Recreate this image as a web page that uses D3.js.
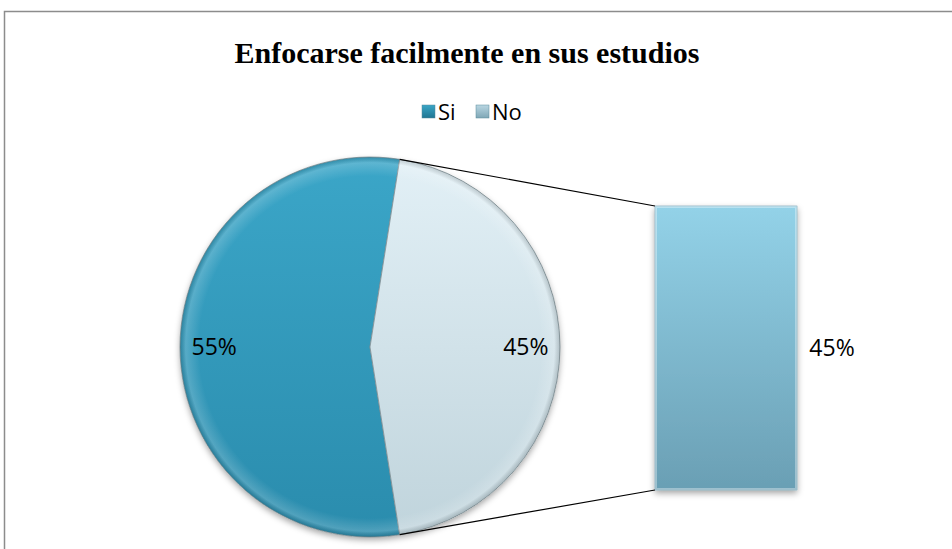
<!DOCTYPE html>
<html>
<head>
<meta charset="utf-8">
<script src="https://cdn.jsdelivr.net/npm/d3@7"></script>
<style>
  body { margin: 0; background: #fff; }
  svg { display: block; }
</style>
</head>
<body>
<div id="chart"></div>
<script>
const title = "Enfocarse facilmente en sus estudios";
const categories = ["Si", "No"];
const values = [55, 45];
const barCategories = ["No"];
const barValues = [45];

const width = 952, height = 549;
const cx = 370, cy = 347, r = 190;
const labelFont = "'Open Sans', 'Noto Sans', sans-serif";

const svg = d3.select("#chart").append("svg")
    .attr("width", width)
    .attr("height", height);

const defs = svg.append("defs");

function vGrad(id, top, bottom) {
    const g = defs.append("linearGradient")
        .attr("id", id)
        .attr("x1", 0).attr("y1", 0).attr("x2", 0).attr("y2", 1);
    g.append("stop").attr("offset", "0%").attr("stop-color", top);
    g.append("stop").attr("offset", "100%").attr("stop-color", bottom);
}
vGrad("g-si", "#3ba6c8", "#2a8cad");
vGrad("g-no", "#e2f0f6", "#c0d4dc");
vGrad("g-bar", "#93d2e8", "#6a9fb4");
vGrad("g-si-legend", "#3aa5c6", "#1f7692");
vGrad("g-no-legend", "#b9d6e2", "#7fa7b6");

const shadow = defs.append("filter").attr("id", "shadow")
    .attr("x", "-20%").attr("y", "-20%").attr("width", "140%").attr("height", "140%");
shadow.append("feDropShadow")
    .attr("dx", 0).attr("dy", 3).attr("stdDeviation", 3)
    .attr("flood-color", "#000").attr("flood-opacity", 0.35);

// soft rim on the pie edge
const rim = defs.append("radialGradient").attr("id", "rim");
rim.append("stop").attr("offset", "90%").attr("stop-color", "#fff").attr("stop-opacity", 0);
rim.append("stop").attr("offset", "97%").attr("stop-color", "#fff").attr("stop-opacity", 0.18);
rim.append("stop").attr("offset", "100%").attr("stop-color", "#000").attr("stop-opacity", 0.15);

// outer frame
svg.append("path")
    .attr("d", `M4.5,${height} V11.5 H${width}`)
    .attr("fill", "none")
    .attr("stroke", "#8c8c8c")
    .attr("stroke-width", 1.5);

// title
svg.append("text")
    .attr("x", 467).attr("y", 63)
    .attr("text-anchor", "middle")
    .style("font-family", "'Liberation Serif', 'Times New Roman', serif")
    .style("font-weight", "bold")
    .style("font-size", "30px")
    .text(title);

// legend
const legendColors = ["url(#g-si-legend)", "url(#g-no-legend)"];
const legend = svg.append("g").attr("transform", "translate(422,105)");
const legendX = [0, 54];
categories.forEach((c, i) => {
    const item = legend.append("g").attr("transform", `translate(${legendX[i]},0)`);
    item.append("rect")
        .attr("width", 13).attr("height", 13)
        .attr("fill", legendColors[i])
        .attr("stroke", "#5a8a9a").attr("stroke-width", 0.5);
    item.append("text")
        .attr("x", 16).attr("y", 15)
        .style("font-family", labelFont)
        .style("font-size", "22px")
        .attr("fill", "#000")
        .text(c);
});

// pie: the "No" slice is centred on the right side
const noShare = values[1] / d3.sum(values);
const start = Math.PI / 2 + noShare * Math.PI;
const pie = d3.pie().sort(null).value(d => d)
    .startAngle(start).endAngle(start + 2 * Math.PI);
const arcs = pie(values);
const arc = d3.arc().innerRadius(0).outerRadius(r);
const labelArc = d3.arc().innerRadius(r * 0.64).outerRadius(r);

const pieG = svg.append("g").attr("transform", `translate(${cx},${cy})`);
const fills = ["url(#g-si)", "url(#g-no)"];

pieG.append("circle").attr("r", r).attr("fill", "#fff").attr("filter", "url(#shadow)");
pieG.selectAll("path.slice")
    .data(arcs)
    .join("path")
    .attr("class", "slice")
    .attr("d", arc)
    .attr("fill", (d, i) => fills[i])
    .attr("stroke", "#7d8f96")
    .attr("stroke-width", 0.8);
pieG.append("circle").attr("r", r).attr("fill", "url(#rim)");

pieG.selectAll("text")
    .data(arcs)
    .join("text")
    .attr("transform", d => `translate(${labelArc.centroid(d)})`)
    .attr("text-anchor", "middle")
    .attr("dy", "0.35em")
    .style("font-family", labelFont)
    .style("font-size", "23px")
    .text(d => d.data + "%");

// secondary bar
const x = d3.scaleBand().domain(barCategories).range([655, 797]).padding(0);
const y = d3.scaleLinear().domain([0, d3.max(barValues)]).range([490, 206]);

const barG = svg.append("g");
barG.selectAll("rect")
    .data(barValues)
    .join("rect")
    .attr("x", (d, i) => x(barCategories[i]))
    .attr("y", d => y(d))
    .attr("width", x.bandwidth())
    .attr("height", d => y(0) - y(d))
    .attr("fill", "url(#g-bar)")
    .attr("stroke", "#6d9aab")
    .attr("stroke-width", 0.6)
    .attr("filter", "url(#shadow)");

// bevel highlight
barG.selectAll("rect.bevel")
    .data(barValues)
    .join("rect")
    .attr("class", "bevel")
    .attr("x", (d, i) => x(barCategories[i]) + 1)
    .attr("y", d => y(d) + 1)
    .attr("width", x.bandwidth() - 2)
    .attr("height", d => y(0) - y(d) - 2)
    .attr("fill", "none")
    .attr("stroke", "#ffffff")
    .attr("stroke-opacity", 0.35)
    .attr("stroke-width", 2);

barG.selectAll("text")
    .data(barValues)
    .join("text")
    .attr("x", (d, i) => x(barCategories[i]) + x.bandwidth() + 35)
    .attr("y", d => (y(d) + y(0)) / 2)
    .attr("text-anchor", "middle")
    .attr("dy", "0.35em")
    .style("font-family", labelFont)
    .style("font-size", "23px")
    .text(d => d + "%");

// connector lines from the "No" slice to the bar
const noArc = arcs[1];
const pt = a => [cx + r * Math.sin(a), cy - r * Math.cos(a)];
const barLeft = x(barCategories[0]);
const connectors = [
    [pt(noArc.startAngle), [barLeft, y(barValues[0])]],
    [pt(noArc.endAngle), [barLeft, y(0)]]
];
svg.selectAll("line.conn")
    .data(connectors)
    .join("line")
    .attr("class", "conn")
    .attr("x1", d => d[0][0]).attr("y1", d => d[0][1])
    .attr("x2", d => d[1][0]).attr("y2", d => d[1][1])
    .attr("stroke", "#000")
    .attr("stroke-width", 1.2);
</script>
</body>
</html>
